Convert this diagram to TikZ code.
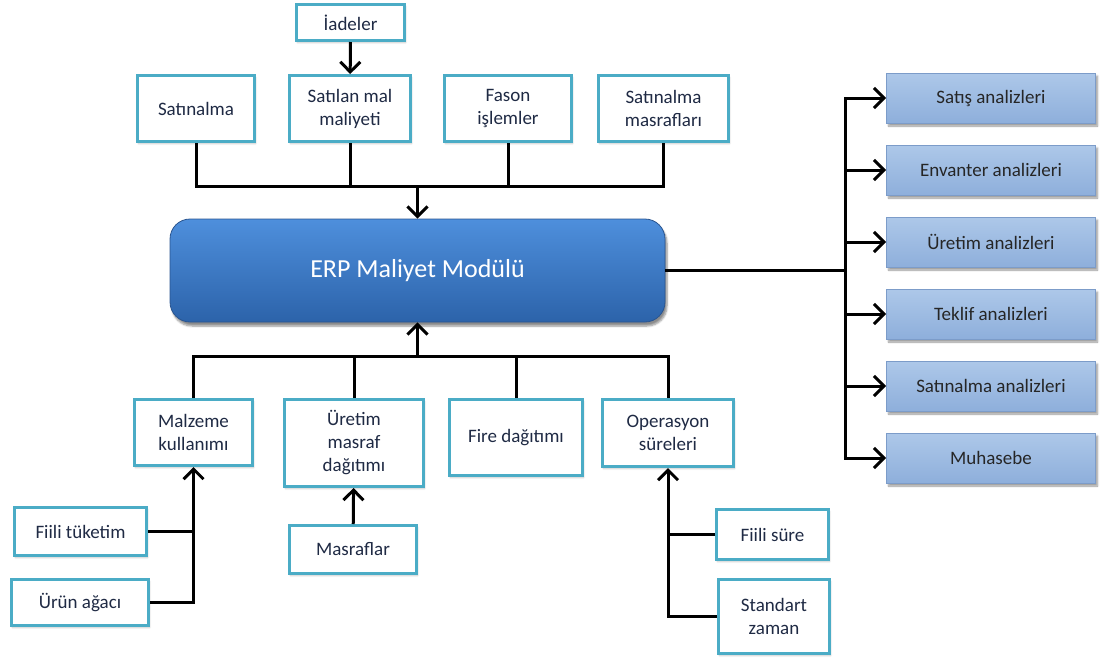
\documentclass[tikz,border=0pt]{standalone}
\usepackage{fontspec}
\setmainfont{Carlito}
\usetikzlibrary{arrows.meta,shadows.blur}
\definecolor{frame}{HTML}{4BACC6}
\definecolor{ink}{HTML}{1F2A44}
\definecolor{coretop}{HTML}{4E8FDC}
\definecolor{corebot}{HTML}{2C63AA}
\definecolor{corerim}{HTML}{2A5590}
\definecolor{anatop}{HTML}{ADC8E9}
\definecolor{anabot}{HTML}{8EAFDB}
\definecolor{anarim}{HTML}{7C9CC9}

\begin{document}
\begin{tikzpicture}[x=1pt, y=-1pt,
  box/.style 2 args={rectangle, draw=frame, line width=3pt, fill=white, minimum width=#1pt, minimum height=#2pt,
    inner sep=0pt, align=center, text=ink, font=\fontsize{19}{23}\selectfont,
    blur shadow={shadow blur steps=4, shadow xshift=1pt, shadow yshift=-2pt, shadow opacity=25}},
  abox/.style={rectangle, draw=anarim, line width=0.8pt, top color=anatop, bottom color=anabot,
    minimum width=209pt, minimum height=50pt, inner sep=0pt, text=black!85, font=\fontsize{19}{23}\selectfont,
    blur shadow={shadow blur steps=5, shadow xshift=2pt, shadow yshift=-3pt, shadow opacity=40}},
  core/.style={rectangle, rounded corners=20pt, draw=corerim, line width=0.8pt, top color=coretop, bottom color=corebot,
    minimum width=495pt, minimum height=103pt, text=white, font=\fontsize{26}{30}\selectfont,
    blur shadow={shadow blur steps=6, shadow xshift=2pt, shadow yshift=-4pt, shadow opacity=45}},
  conn/.style={line width=3pt, black},
  arr/.style={conn, -{Straight Barb[length=10pt, width=20pt]}}
]
  \useasboundingbox (0,0) rectangle (1104,659);

  % cost sources above the module
  \node[box={108}{36}] (iade) at (350.5,22.5) {İadeler};
  \node[box={117}{66}] (satin) at (196,108.5) {Satınalma};
  \node[box={121}{66}] (satmal) at (350,108.5) {Satılan mal\\maliyeti};
  \node[box={127}{66}] (fason) at (508,108.5) {Fason\\işlemler};
  \node[box={130}{66}] (satmas) at (663.5,108.5) {Satınalma\\masrafları};

  % the module itself
  \node[core] (erp) at (417.5,270.5) {ERP Maliyet Modülü};

  % cost sources below the module
  \node[box={118}{66}] (malz) at (193.5,432.5) {Malzeme\\kullanımı};
  \node[box={139}{87}] (uret) at (354,443) {Üretim\\masraf\\dağıtımı};
  \node[box={133}{76}] (fire) at (516,437.5) {Fire dağıtımı};
  \node[box={131}{67}] (oper) at (668,433) {Operasyon\\süreleri};
  \node[box={132}{48}] (fiilt) at (80.5,531.5) {Fiili tüketim};
  \node[box={137}{46}] (urun) at (80,602.5) {Ürün ağacı};
  \node[box={127}{48}] (masr) at (353,549.5) {Masraflar};
  \node[box={112}{50}] (fiils) at (772.5,534.5) {Fiili süre};
  \node[box={111}{74}] (stdz) at (774,616.5) {Standart\\zaman};

  % reports fed by the module
  \node[abox] (satis) at (991,98) {Satış analizleri};
  \node[abox] (envan) at (991,170) {Envanter analizleri};
  \node[abox] (uretan) at (991,242) {Üretim analizleri};
  \node[abox] (teklif) at (991,314) {Teklif analizleri};
  \node[abox] (satan) at (991,386) {Satınalma analizleri};
  \node[abox] (muh) at (991,458) {Muhasebe};

  \coordinate (topbus) at (417.5,186);
  \coordinate (botbus) at (417.5,356);
  \coordinate (rbus) at (845,270.5);

  % upper feed
  \draw[arr] (iade) -- (satmal);
  \draw[conn] (satin.south) |- (topbus) -| (satmas.south);
  \draw[conn] (satmal.south) -- (satmal.south |- topbus);
  \draw[conn] (fason.south) -- (fason.south |- topbus);
  \draw[arr] (topbus) -- (erp.north);

  % lower feed
  \draw[conn] (malz.north) |- (botbus) -| (oper.north);
  \draw[conn] (uret.north) -- (uret.north |- botbus);
  \draw[conn] (fire.north) -- (fire.north |- botbus);
  \draw[arr] (botbus) -- (erp.south);
  \draw[arr] (urun.east) -| (malz.south);
  \draw[conn] (fiilt.east) -- (fiilt.east -| malz.south);
  \draw[arr] (masr) -- (uret);
  \draw[arr] (stdz.west) -| (oper.south);
  \draw[conn] (fiils.west) -- (fiils.west -| oper.south);

  % outputs
  \draw[conn] (erp.east) -- (rbus);
  \draw[arr] (rbus) |- (satis.west);
  \draw[arr] (rbus) |- (muh.west);
  \draw[arr] (rbus |- envan.west) -- (envan.west);
  \draw[arr] (rbus |- uretan.west) -- (uretan.west);
  \draw[arr] (rbus |- teklif.west) -- (teklif.west);
  \draw[arr] (rbus |- satan.west) -- (satan.west);
\end{tikzpicture}
\end{document}
